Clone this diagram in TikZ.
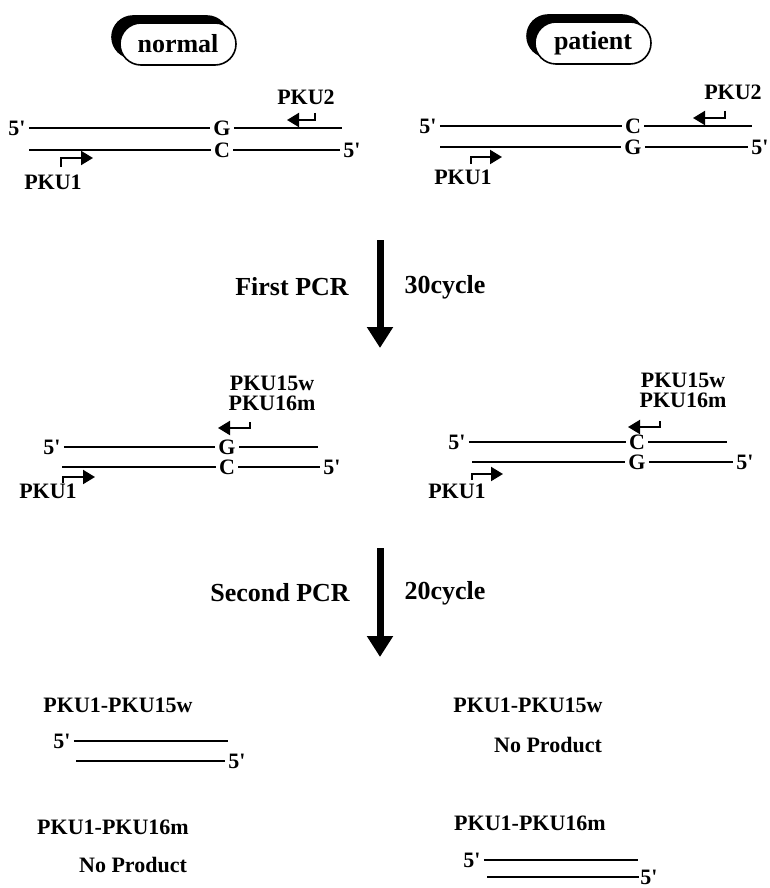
\documentclass[tikz,border=0pt]{standalone}
\usepackage{fontspec}
\setmainfont{Liberation Serif}
\usetikzlibrary{arrows.meta,shapes.misc,shadows}

\begin{document}
\begin{tikzpicture}[
  x=0.5pt, y=-0.5pt,
  every node/.style={font=\bfseries\fontsize{11}{13}\selectfont, inner sep=1.5pt},
  strand/.style={line width=1pt},
  primer/.style={line width=1pt, -{Triangle[length=6pt,width=7pt]}},
  pcr/.style={line width=3.5pt, -{Triangle[length=10.5pt,width=12.5pt]}},
  steplabel/.style={font=\bfseries\fontsize{13}{15}\selectfont},
  pairlabel/.style={align=center, font=\bfseries\fontsize{11}{10}\selectfont},
  sample/.style={rounded rectangle, draw, line width=0.8pt, fill=white,
    minimum width=61pt, minimum height=21pt,
    font=\bfseries\fontsize{13}{15}\selectfont,
    copy shadow={shadow xshift=-4pt, shadow yshift=3.5pt, fill=black, draw=black}}
]
\useasboundingbox (0,0) rectangle (770,888);

% ---------- Sample boxes ----------
\node[sample] (normal) at (178,44) {normal};
\node[sample] (patient) at (593,43) {patient};

% ---------- Template: normal ----------
\node (tl5a) at (17,128) {5\textquotesingle};
\node (tlG) at (222,128) {G};
\coordinate (tlAend) at (342,128);
\draw[strand] (tl5a) -- (tlG) -- (tlAend);
\coordinate (tlBstart) at (29,150);
\node (tlC) at (222,150) {C};
\node (tl5b) at (352,150) {5\textquotesingle};
\draw[strand] (tlBstart) -- (tlC) -- (tl5b);
\draw[primer] (315,113) |- (287,120); % PKU2
\node (tlPKU2) at (306,97) {PKU2};
\draw[primer] (61,167) |- (93,158); % PKU1
\node (tlPKU1) at (53,182) {PKU1};

% ---------- Template: patient ----------
\node (tr5a) at (428,126) {5\textquotesingle};
\node (trC) at (633,126) {C};
\coordinate (trAend) at (752,126);
\draw[strand] (tr5a) -- (trC) -- (trAend);
\coordinate (trBstart) at (440,147);
\node (trG) at (633,147) {G};
\node (tr5b) at (760,147) {5\textquotesingle};
\draw[strand] (trBstart) -- (trG) -- (tr5b);
\draw[primer] (725,111) |- (693,118); % PKU2
\node (trPKU2) at (733,92) {PKU2};
\draw[primer] (471,164) |- (502,157); % PKU1
\node (trPKU1) at (463,177) {PKU1};

% ---------- First PCR ----------
\coordinate (pcr1top) at (380,240);
\coordinate (pcr1end) at (380,348);
\draw[pcr] (pcr1top) -- (pcr1end);
\node[steplabel] (first) at (292,287) {First PCR};
\node[steplabel] (cyc30) at (445,287) {30cycle};

% ---------- After first PCR: normal ----------
\node (ml5a) at (52,447) {5\textquotesingle};
\node (mlG) at (227,447) {G};
\coordinate (mlAend) at (318,447);
\draw[strand] (ml5a) -- (mlG) -- (mlAend);
\coordinate (mlBstart) at (62,467);
\node (mlC) at (227,467) {C};
\node (ml5b) at (332,467) {5\textquotesingle};
\draw[strand] (mlBstart) -- (mlC) -- (ml5b);
\draw[primer] (250,422) |- (218,428); % PKU15w / PKU16m
\node[pairlabel] (mlPKU) at (272,393) {PKU15w\\PKU16m};
\draw[primer] (63,483) |- (95,477); % PKU1
\node (mlPKU1) at (48,491) {PKU1};

% ---------- After first PCR: patient ----------
\node (mr5a) at (457,442) {5\textquotesingle};
\node (mrC) at (637,442) {C};
\coordinate (mrAend) at (727,442);
\draw[strand] (mr5a) -- (mrC) -- (mrAend);
\coordinate (mrBstart) at (472,462);
\node (mrG) at (637,462) {G};
\node (mr5b) at (745,462) {5\textquotesingle};
\draw[strand] (mrBstart) -- (mrG) -- (mr5b);
\draw[primer] (660,421) |- (628,427); % PKU15w / PKU16m
\node[pairlabel] (mrPKU) at (683,390) {PKU15w\\PKU16m};
\draw[primer] (472,480) |- (503,474); % PKU1
\node (mrPKU1) at (457,491) {PKU1};

% ---------- Second PCR ----------
\coordinate (pcr2top) at (380,548);
\coordinate (pcr2end) at (380,657);
\draw[pcr] (pcr2top) -- (pcr2end);
\node[steplabel] (second) at (280,593) {Second PCR};
\node[steplabel] (cyc20) at (445,593) {20cycle};

% ---------- Products: normal ----------
\node (blW) at (118,705) {PKU1-PKU15w};
\node (bl5a) at (62,741) {5\textquotesingle};
\coordinate (blAend) at (228,741);
\draw[strand] (bl5a) -- (blAend);
\coordinate (blBstart) at (76,761);
\node (bl5b) at (237,761) {5\textquotesingle};
\draw[strand] (blBstart) -- (bl5b);
\node (blM) at (113,827) {PKU1-PKU16m};
\node (blNo) at (133,865) {No Product};

% ---------- Products: patient ----------
\node (brW) at (528,705) {PKU1-PKU15w};
\node (brNo) at (548,745) {No Product};
\node (brM) at (530,823) {PKU1-PKU16m};
\node (br5a) at (472,860) {5\textquotesingle};
\coordinate (brAend) at (638,860);
\draw[strand] (br5a) -- (brAend);
\coordinate (brBstart) at (487,877);
\node[inner sep=0.5pt] (br5b) at (649,877) {5\textquotesingle};
\draw[strand] (brBstart) -- (br5b);

\end{tikzpicture}
\end{document}
